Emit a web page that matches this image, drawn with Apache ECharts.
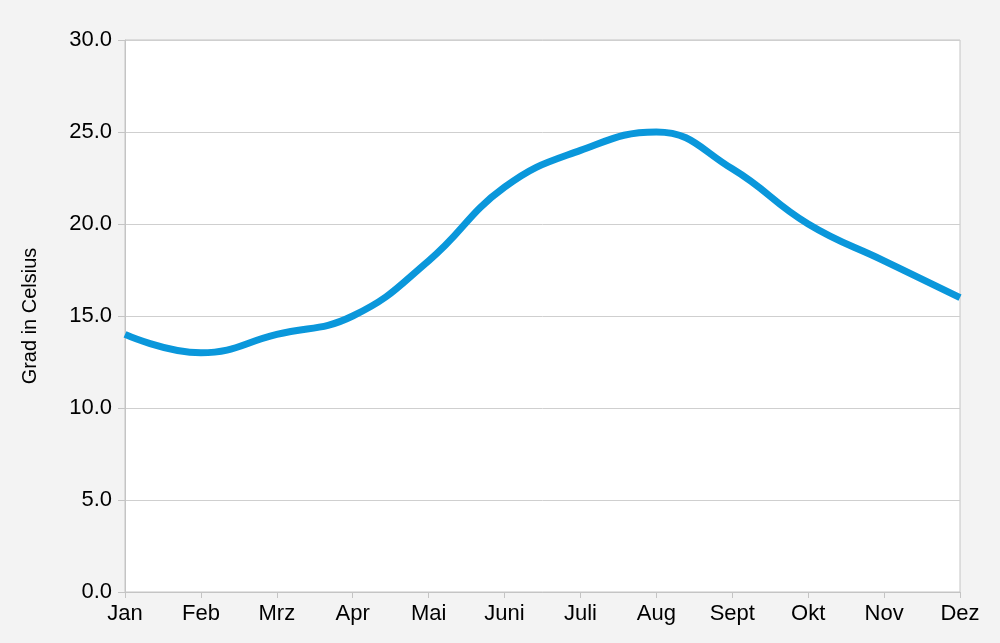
<!DOCTYPE html>
<html><head><meta charset="utf-8">
<script src="https://cdn.jsdelivr.net/npm/echarts@6/dist/echarts.min.js"></script>
<style>html,body{margin:0;padding:0;background:#f3f3f3}#c{width:1000px;height:643px}</style>
</head><body><div id="c"></div>
<script>
const categories = ['Jan','Feb','Mrz','Apr','Mai','Juni','Juli','Aug','Sept','Okt','Nov','Dez'];
const temperatures = [14, 13, 14, 15, 18, 22, 24, 25, 23, 20, 18, 16];
const yAxisName = 'Grad in Celsius';

const chart = echarts.init(document.getElementById('c'));
chart.setOption({
  backgroundColor: '#f3f3f3',
  animation: false,
  textStyle: { fontFamily: 'Liberation Sans, Arial, sans-serif' },
  grid: { left: 125, right: 40, top: 40, bottom: 51, show: true, backgroundColor: '#ffffff', borderColor: '#c4c4c4', borderWidth: 1 },
  xAxis: {
    type: 'category', data: categories, boundaryGap: false,
    axisLine: { lineStyle: { color: '#c4c4c4', width: 1 } },
    axisTick: { show: true, length: 6, lineStyle: { color: '#c4c4c4' } },
    axisLabel: { color: '#000', fontSize: 22, margin: 11, fontFamily: 'Liberation Sans, Arial, sans-serif' },
    splitLine: { show: false }
  },
  yAxis: {
    type: 'value', min: 0, max: 30, interval: 5,
    name: yAxisName, nameLocation: 'middle', nameGap: 85, nameRotate: 90,
    nameTextStyle: { color: '#000', fontSize: 20, fontFamily: 'Liberation Sans, Arial, sans-serif' },
    axisLine: { show: true, lineStyle: { color: '#c4c4c4', width: 1 } },
    axisTick: { show: true, length: 7, lineStyle: { color: '#c4c4c4' } },
    axisLabel: { color: '#000', fontSize: 22, margin: 13, formatter: v => v.toFixed(1), fontFamily: 'Liberation Sans, Arial, sans-serif' },
    splitLine: { show: true, lineStyle: { color: '#cfcfcf', width: 1 } }
  },
  series: [{
    type: 'line', data: temperatures, smooth: 0.45, symbol: 'none',
    lineStyle: { color: '#0a97db', width: 7 }
  }]
});
</script></body></html>
